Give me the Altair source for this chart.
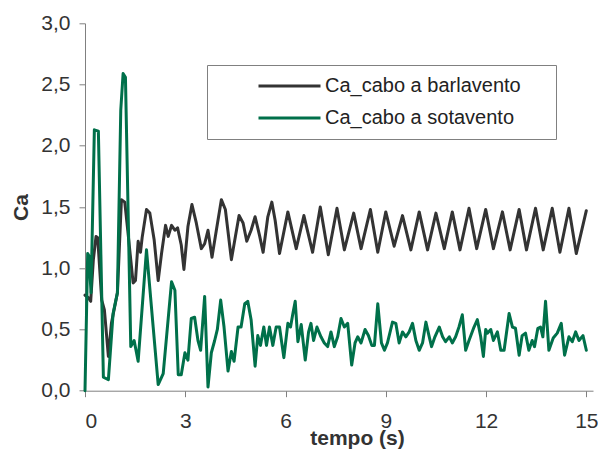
import altair as alt
import pandas as pd

SERIES = ["Ca_cabo a barlavento", "Ca_cabo a sotavento"]
COLORS = ["#333333", "#00704A"]

x_ticks = [0, 3, 6, 9, 12, 15]
y_ticks = [0, 0.5, 1.0, 1.5, 2.0, 2.5, 3.0]

t_barlavento = [
    0.00, 0.10, 0.17, 0.25, 0.33, 0.38, 0.50, 0.58, 0.70, 0.79, 0.97, 1.09, 1.19,
    1.29, 1.44, 1.51, 1.59, 1.66, 1.71, 1.84, 1.94, 2.07, 2.19, 2.29, 2.41, 2.49,
    2.59, 2.69, 2.77, 2.88, 2.96, 3.08, 3.20, 3.33, 3.48, 3.58, 3.68, 3.80, 3.93,
    4.08, 4.20, 4.38, 4.50, 4.61, 4.73, 4.84, 4.97, 5.09, 5.22, 5.33, 5.47, 5.59,
    5.69, 5.82, 6.07, 6.32, 6.55, 6.81, 7.04, 7.28, 7.54, 7.76, 8.04, 8.26, 8.54,
    8.76, 9.00, 9.25, 9.50, 9.75, 10.00, 10.25, 10.50, 10.75, 10.99, 11.22, 11.49,
    11.72, 11.99, 12.22, 12.49, 12.72, 12.99, 13.21, 13.48, 13.71, 13.98, 14.21,
    14.48, 14.70, 15.00,
]
ca_barlavento = [
    0.78, 0.76, 0.73, 1.07, 1.26, 1.25, 0.74, 0.66, 0.28, 0.55, 0.80, 1.56, 1.54,
    1.28, 0.88, 0.90, 1.22, 1.13, 1.25, 1.48, 1.45, 1.23, 0.90, 1.12, 1.35, 1.26,
    1.35, 1.31, 1.33, 1.19, 0.99, 1.34, 1.52, 1.37, 1.16, 1.20, 1.31, 1.09, 1.31,
    1.56, 1.48, 1.07, 1.26, 1.43, 1.37, 1.22, 1.31, 1.42, 1.27, 1.13, 1.42, 1.54,
    1.39, 1.12, 1.46, 1.16, 1.43, 1.13, 1.50, 1.11, 1.49, 1.15, 1.45, 1.16, 1.48,
    1.13, 1.46, 1.18, 1.43, 1.15, 1.46, 1.15, 1.45, 1.16, 1.46, 1.15, 1.49,
    1.16, 1.48, 1.16, 1.46, 1.15, 1.48, 1.15, 1.49, 1.15, 1.49, 1.13,
    1.49, 1.12, 1.47,
]

t_sotavento = [
    0.00, 0.08, 0.12, 0.18, 0.28, 0.40, 0.55, 0.70, 0.84, 0.97, 1.07, 1.14, 1.21,
    1.37, 1.47, 1.59, 1.84, 2.04, 2.19, 2.34, 2.59, 2.69, 2.79, 2.88, 2.99, 3.08,
    3.18, 3.28, 3.38, 3.46, 3.58, 3.68, 3.78, 3.88, 3.96, 4.06, 4.16, 4.28, 4.38,
    4.46, 4.58, 4.67, 4.78, 4.87, 4.97, 5.09, 5.17, 5.25, 5.35, 5.43, 5.52, 5.62,
    5.72, 5.82, 5.95, 6.07, 6.15, 6.22, 6.29, 6.37, 6.47, 6.59, 6.69, 6.76, 6.84,
    6.94, 7.06, 7.16, 7.26, 7.36, 7.46, 7.56, 7.66, 7.76, 7.86, 7.98, 8.08, 8.16,
    8.26, 8.38, 8.48, 8.58, 8.66, 8.76, 8.87, 8.96, 9.05, 9.20, 9.30, 9.40, 9.50,
    9.60, 9.70, 9.80, 9.90, 10.00, 10.10, 10.20, 10.30, 10.37, 10.47, 10.60, 10.70,
    10.79, 10.90, 10.99, 11.09, 11.19, 11.29, 11.39, 11.49, 11.64, 11.74, 11.84,
    11.92, 11.99, 12.04, 12.14, 12.22, 12.34, 12.44, 12.54, 12.69, 12.79, 12.88,
    12.99, 13.08, 13.18, 13.28, 13.38, 13.45, 13.55, 13.63, 13.70, 13.78, 13.88,
    14.01, 14.13, 14.25, 14.35, 14.48, 14.58, 14.68, 14.78, 14.90, 15.00,
]
ca_sotavento = [
    0.00, 1.12, 1.10, 0.80, 2.13, 2.12, 0.11, 0.09, 0.63, 0.80, 2.29, 2.59, 2.56,
    0.36, 0.41, 0.24, 1.15, 0.52, 0.05, 0.14, 0.89, 0.82, 0.13, 0.13, 0.31, 0.25,
    0.59, 0.60, 0.41, 0.33, 0.77, 0.03, 0.31, 0.41, 0.50, 0.74, 0.52, 0.16, 0.32,
    0.24, 0.52, 0.52, 0.71, 0.73, 0.58, 0.20, 0.45, 0.37, 0.52, 0.37, 0.52, 0.37,
    0.52, 0.52, 0.27, 0.55, 0.52, 0.63, 0.73, 0.40, 0.54, 0.25, 0.48, 0.55, 0.41,
    0.52, 0.44, 0.39, 0.36, 0.48, 0.36, 0.44, 0.59, 0.52, 0.55, 0.21, 0.39, 0.44,
    0.39, 0.50, 0.45, 0.37, 0.37, 0.71, 0.39, 0.33, 0.39, 0.56, 0.55, 0.39, 0.48,
    0.44, 0.48, 0.55, 0.41, 0.33, 0.39, 0.56, 0.44, 0.36, 0.44, 0.52, 0.44,
    0.40, 0.44, 0.39, 0.44, 0.52, 0.62, 0.33, 0.41, 0.52, 0.58, 0.44,
    0.28, 0.50, 0.47, 0.50, 0.41, 0.48, 0.33, 0.33, 0.63, 0.52, 0.51,
    0.29, 0.45, 0.47, 0.33, 0.41, 0.36, 0.51, 0.52, 0.44, 0.73, 0.33,
    0.43, 0.47, 0.55, 0.29, 0.44, 0.40, 0.48, 0.41, 0.45, 0.33,
]

rows = []
for i, (t, v) in enumerate(zip(t_barlavento, ca_barlavento)):
    rows.append({"serie": SERIES[0], "t": t, "ca": v, "idx": i})
for i, (t, v) in enumerate(zip(t_sotavento, ca_sotavento)):
    rows.append({"serie": SERIES[1], "t": t, "ca": v, "idx": i})
df = pd.DataFrame(rows)

FONT = "Liberation Sans"

chart = (
    alt.Chart(df)
    .mark_line(strokeWidth=3, strokeJoin="round", strokeCap="round")
    .encode(
        x=alt.X(
            "t:Q",
            scale=alt.Scale(domain=[0, 15.2], nice=False, zero=False),
            axis=alt.Axis(
                values=x_ticks,
                title="tempo (s)",
                format="d",
                labelPadding=14,
                titleX=272,
                titleY=53.8,
                titleBaseline="alphabetic",
            ),
        ),
        y=alt.Y(
            "ca:Q",
            scale=alt.Scale(domain=[0, 3], nice=False),
            axis=alt.Axis(
                values=y_ticks,
                title="Ca",
                labelExpr="replace(format(datum.value, '.1f'), '.', ',')",
                labelPadding=9,
                titlePadding=9,
            ),
        ),
        color=alt.Color(
            "serie:N",
            scale=alt.Scale(domain=SERIES, range=COLORS),
            legend=alt.Legend(
                orient="none",
                legendX=122,
                legendY=41.7,
                title="MM",
                titleOrient="right",
                titleFontSize=13,
                titlePadding=5,
                titleOpacity=0,
                direction="vertical",
                symbolType="stroke",
                symbolSize=3844,
                symbolStrokeWidth=3,
                symbolOffset=42,
                labelOffset=3,
                labelFontSize=20,
                labelFont=FONT,
                labelColor="#222222",
                labelLimit=600,
                strokeColor="#808080",
                fillColor="white",
                padding=8,
                rowPadding=6,
                clipHeight=26,
            ),
        ),
        order="idx:Q",
    )
    .properties(
        width=508,
        height=367.4,
        autosize=alt.AutoSizeParams(type="none"),
        padding={"left": 77, "top": 15.3, "right": 5, "bottom": 58.3},
        background="white",
    )
    .configure_view(stroke=None)
    .configure_axis(
        grid=False,
        domainColor="#808080",
        tickColor="#808080",
        tickSize=6,
        labelFont=FONT,
        labelFontSize=21,
        labelColor="#333333",
        titleFont=FONT,
        titleFontSize=21,
        titleFontWeight="bold",
        titleColor="#333333",
    )
)

chart.save("out.html", embed_options={"renderer": "svg", "actions": False})
